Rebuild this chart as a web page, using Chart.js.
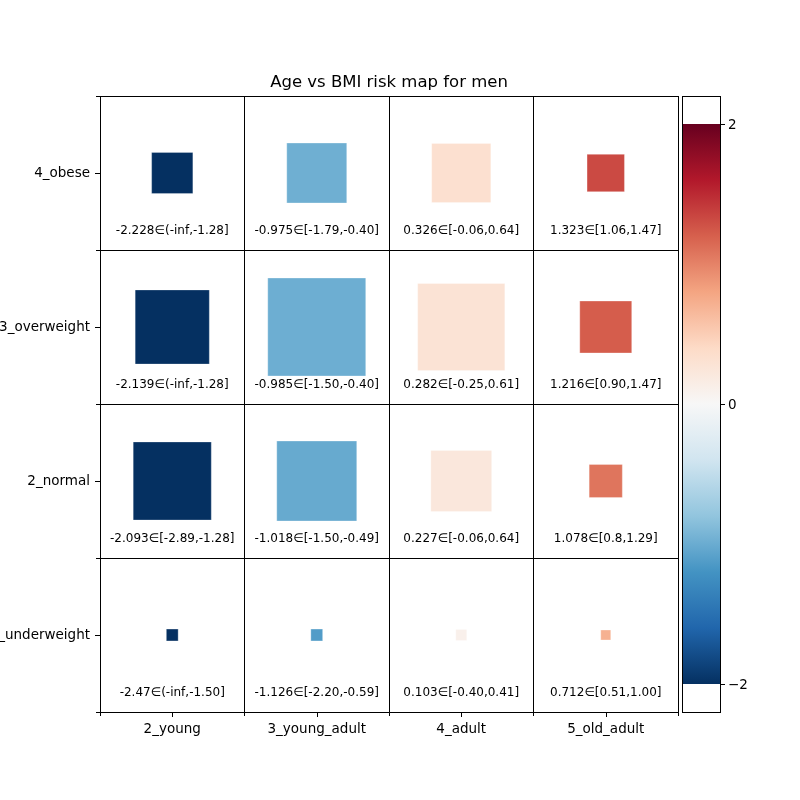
<!DOCTYPE html>
<html lang="en">
<head>
  <meta charset="UTF-8">
  <script src="https://cdn.jsdelivr.net/npm/chart.js"></script>
  <title>Age vs BMI risk map</title>
  <style>body{margin:0;background:#fff}</style>
</head>
<body>
  <canvas id="myChart" width="800" height="800"></canvas>
<script>
  // categories
  const ageGroups = ['2_young', '3_young_adult', '4_adult', '5_old_adult'];
  const bmiGroups = ['4_obese', '3_overweight', '2_normal', '1_underweight']; // top to bottom

  // risk score per cell (rows follow bmiGroups)
  const riskObese       = [-2.228, -0.975, 0.326, 1.323];
  const riskOverweight  = [-2.139, -0.985, 0.282, 1.216];
  const riskNormal      = [-2.093, -1.018, 0.227, 1.078];
  const riskUnderweight = [-2.47, -1.126, 0.103, 0.712];

  // confidence intervals as printed
  const ciObese       = ['(-inf,-1.28]', '[-1.79,-0.40]', '[-0.06,0.64]', '[1.06,1.47]'];
  const ciOverweight  = ['(-inf,-1.28]', '[-1.50,-0.40]', '[-0.25,0.61]', '[0.90,1.47]'];
  const ciNormal      = ['[-2.89,-1.28]', '[-1.50,-0.49]', '[-0.06,0.64]', '[0.8,1.29]'];
  const ciUnderweight = ['(-inf,-1.50]', '[-2.20,-0.59]', '[-0.40,0.41]', '[0.51,1.00]'];

  // share of samples in each cell (square area is proportional to it)
  const shareObese       = [17, 36, 35, 14];
  const shareOverweight  = [55, 96, 76, 27];
  const shareNormal      = [61, 64, 37, 11];
  const shareUnderweight = [1.4, 1.4, 1.2, 1.0];

  const cbTicks = [-2, 0, 2];

  const riskRows = [riskObese, riskOverweight, riskNormal, riskUnderweight];
  const ciRows = [ciObese, ciOverweight, ciNormal, ciUnderweight];
  const shareRows = [shareObese, shareOverweight, shareNormal, shareUnderweight];

  // RdBu_r colormap, vmin -2 vmax 2
  const rdbuR = ['#053061', '#2166ac', '#4393c3', '#92c5de', '#d1e5f0', '#f7f7f7',
                 '#fddbc7', '#f4a582', '#d6604d', '#b2182b', '#67001f'];
  function hexRgb(h) {
    return [parseInt(h.slice(1, 3), 16), parseInt(h.slice(3, 5), 16), parseInt(h.slice(5, 7), 16)];
  }
  function cmap(v) {
    let t = (v + 2) / 4;
    t = Math.max(0, Math.min(1, t));
    const p = t * (rdbuR.length - 1);
    const i = Math.min(Math.floor(p), rdbuR.length - 2);
    const f = p - i;
    const a = hexRgb(rdbuR[i]), b = hexRgb(rdbuR[i + 1]);
    const c = a.map((x, k) => Math.round(x + (b[k] - x) * f));
    return 'rgb(' + c.join(',') + ')';
  }

  const points = [];
  bmiGroups.forEach((bmi, r) => {
    ageGroups.forEach((age, c) => {
      points.push({ x: age, y: bmi, v: riskRows[r][c], w: shareRows[r][c], ci: ciRows[r][c] });
    });
  });

  Chart.defaults.font.family = 'DejaVu Sans';
  Chart.defaults.color = '#000';

  const cellText = {
    id: 'cellText',
    afterDatasetsDraw(chart) {
      const ctx = chart.ctx, xs = chart.scales.x, ys = chart.scales.y;
      const cellH = ys.height / bmiGroups.length;
      ctx.save();
      ctx.font = '12px "DejaVu Sans"';
      ctx.fillStyle = '#000';
      ctx.textAlign = 'center';
      ctx.textBaseline = 'middle';
      points.forEach(p => {
        const px = xs.getPixelForValue(ageGroups.indexOf(p.x));
        const py = ys.getPixelForValue(bmiGroups.indexOf(p.y)) + cellH * 0.375;
        ctx.fillText(p.v + '\u2208' + p.ci, px, py);
      });
      ctx.restore();
    }
  };

  const extras = {
    id: 'extras',
    afterDraw(chart) {
      const ctx = chart.ctx, xs = chart.scales.x, ys = chart.scales.y, cb = chart.scales.cb;
      const area = chart.chartArea;
      ctx.save();
      ctx.strokeStyle = '#000';
      ctx.lineWidth = 1;
      // major ticks at category centres
      ageGroups.forEach((a, i) => {
        const x = Math.round(xs.getPixelForValue(i)) + 0.5;
        ctx.beginPath(); ctx.moveTo(x, area.bottom); ctx.lineTo(x, area.bottom + 5); ctx.stroke();
      });
      bmiGroups.forEach((b, i) => {
        const y = Math.round(ys.getPixelForValue(i)) + 0.5;
        ctx.beginPath(); ctx.moveTo(area.left - 5, y); ctx.lineTo(area.left, y); ctx.stroke();
      });

      // colorbar
      const x0 = area.right + 4, x1 = area.right + 42;
      const yTop = cb.getPixelForValue(2), yBot = cb.getPixelForValue(-2);
      const grad = ctx.createLinearGradient(0, yBot, 0, yTop);
      rdbuR.forEach((c, i) => grad.addColorStop(i / (rdbuR.length - 1), c));
      ctx.fillStyle = grad;
      ctx.fillRect(x0, yTop, x1 - x0, yBot - yTop);
      ctx.strokeRect(x0 + 0.5, area.top + 0.5, x1 - x0, area.bottom - area.top);
      ctx.fillStyle = '#000';
      ctx.font = '13.5px "DejaVu Sans"';
      ctx.textAlign = 'left';
      ctx.textBaseline = 'middle';
      cbTicks.forEach(t => {
        const y = Math.round(cb.getPixelForValue(t)) + 0.5;
        ctx.beginPath(); ctx.moveTo(x1 + 0.5, y); ctx.lineTo(x1 + 5, y); ctx.stroke();
        ctx.fillText(String(t).replace('-', '\u2212'), x1 + 8, y + 1);
      });
      ctx.restore();
    }
  };

  const axisFont = { family: 'DejaVu Sans', size: 13.5 };

  new Chart(document.getElementById('myChart'), {
    type: 'scatter',
    data: {
      datasets: [{
        data: points,
        pointStyle: 'rect',
        pointRadius: c => Math.sqrt(c.raw.w) * 10 / Math.SQRT2,
        pointHoverRadius: c => Math.sqrt(c.raw.w) * 10 / Math.SQRT2,
        backgroundColor: c => cmap(c.raw.v),
        borderColor: 'rgba(255,255,255,0.6)',
        borderWidth: 0.5
      }]
    },
    options: {
      responsive: false,
      animation: false,
      events: [],
      layout: { padding: { left: 0, right: 122, top: 0, bottom: 0 } },
      plugins: {
        legend: { display: false },
        tooltip: { enabled: false },
        title: {
          display: true,
          text: 'Age vs BMI risk map for men',
          fullSize: false,
          color: '#000',
          font: { family: 'DejaVu Sans', size: 16.5, weight: 'normal' },
          padding: { top: 73, bottom: 3.2 }
        }
      },
      scales: {
        x: {
          type: 'category',
          labels: ageGroups,
          offset: true,
          grid: { offset: true, color: '#000', tickColor: '#000', tickLength: 4, lineWidth: 1 },
          border: { color: '#000' },
          ticks: { color: '#000', font: axisFont, padding: 5, maxRotation: 0, autoSkip: false },
          afterFit: s => { s.height = 88; }
        },
        y: {
          type: 'category',
          labels: bmiGroups,
          offset: true,
          grid: { offset: true, color: '#000', tickColor: '#000', tickLength: 4, lineWidth: 1 },
          border: { color: '#000' },
          ticks: { color: '#000', font: axisFont, padding: 6, autoSkip: false },
          afterFit: s => { s.width = 100; }
        },
        cb: { type: 'linear', display: false, position: 'right', min: -2.2, max: 2.2 }
      }
    },
    plugins: [cellText, extras]
  });
</script>
</body>
</html>
